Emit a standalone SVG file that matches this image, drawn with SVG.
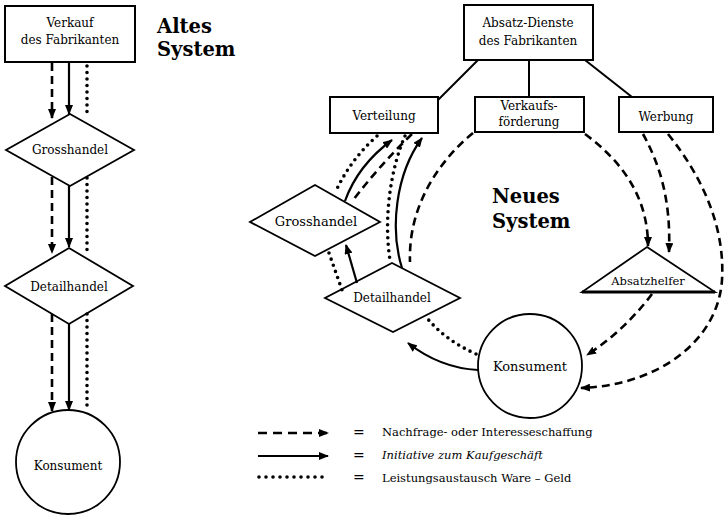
<svg xmlns="http://www.w3.org/2000/svg" width="725" height="515" viewBox="0 0 725 515">
  <style>
    .box { fill: #fff; stroke: #000; stroke-width: 2; }
    .shape { fill: #fff; stroke: #000; stroke-width: 1.8; }
    .lbl { font-family: "DejaVu Serif", "Liberation Serif", serif; font-size: 12px; fill: #000; text-anchor: middle; }
    .title { font-family: "DejaVu Serif", "Liberation Serif", serif; font-size: 19.5px; font-weight: bold; fill: #000; }
    .leg { font-family: "DejaVu Serif", "Liberation Serif", serif; font-size: 11.5px; fill: #000; }
    .tree { fill: none; stroke: #000; stroke-width: 2; }
    .dash { fill: none; stroke: #000; stroke-width: 2.6; stroke-dasharray: 8 5; }
    .solid { fill: none; stroke: #000; stroke-width: 2.2; }
    .dot { fill: none; stroke: #000; stroke-width: 3.6; stroke-dasharray: 0 6.5; stroke-linecap: round; }
    .arr { marker-end: url(#ah); }
  </style>
  <defs>
    <marker id="ah" viewBox="0 0 10 8" refX="9" refY="4" markerWidth="10" markerHeight="8" markerUnits="userSpaceOnUse" orient="auto">
      <path d="M0,0 L10,4 L0,8 z" fill="#000" stroke="none"/>
    </marker>
  </defs>

  <rect width="725" height="515" fill="#fff"/>

  <!-- Old system -->
  <text class="title" x="157" y="33">Altes</text>
  <text class="title" x="157" y="56">System</text>

  <g id="alt-fabrikant">
    <rect class="box" x="5" y="6" width="130" height="56"/>
    <text class="lbl" x="70" y="27">Verkauf</text>
    <text class="lbl" x="70" y="44">des Fabrikanten</text>
  </g>
  <g id="alt-grosshandel">
    <polygon class="shape" points="70,114 134,150 70,186 6,150"/>
    <text class="lbl" x="70" y="154">Grosshandel</text>
  </g>
  <g id="alt-detailhandel">
    <polygon class="shape" points="69,248 133,286 69,324 5,286"/>
    <text class="lbl" x="69" y="291">Detailhandel</text>
  </g>
  <g id="alt-konsument">
    <circle class="shape" cx="68" cy="462" r="52"/>
    <text class="lbl" x="68" y="470">Konsument</text>
  </g>

  <g id="alt-connectors">
    <path class="dash arr" d="M52,63 L52,118"/>
    <path class="solid arr" d="M69,63 L69,114"/>
    <path class="dot" d="M87,66 L87,117"/>
    <path class="dash arr" d="M52,177 L52,253"/>
    <path class="solid arr" d="M69,186 L69,247"/>
    <path class="dot" d="M87,178 L87,253"/>
    <path class="dash arr" d="M52,314 L52,411"/>
    <path class="solid arr" d="M69,324 L69,410"/>
    <path class="dot" d="M87,314 L87,410"/>
  </g>

  <!-- New system -->
  <text class="title" x="492" y="203">Neues</text>
  <text class="title" x="492" y="228">System</text>

  <g id="neu-absatzdienste">
    <rect class="box" x="464" y="5" width="129" height="55"/>
    <text class="lbl" x="528" y="27">Absatz-Dienste</text>
    <text class="lbl" x="528" y="45">des Fabrikanten</text>
  </g>
  <g id="neu-verteilung">
    <rect class="box" x="330" y="97" width="108" height="36"/>
    <text class="lbl" x="384" y="120">Verteilung</text>
  </g>
  <g id="neu-verkaufsfoerderung">
    <rect class="box" x="475" y="97" width="109" height="35"/>
    <text class="lbl" x="529" y="110">Verkaufs-</text>
    <text class="lbl" x="529" y="126">förderung</text>
  </g>
  <g id="neu-werbung">
    <rect class="box" x="619" y="97" width="94" height="35"/>
    <text class="lbl" x="666" y="121">Werbung</text>
  </g>
  <g id="neu-grosshandel">
    <polygon class="shape" points="315,185 380,222 315,256 250,222"/>
    <text class="lbl" x="316" y="226" style="font-size:13px">Grosshandel</text>
  </g>
  <g id="neu-detailhandel">
    <polygon class="shape" points="392,263 460,298 393,332 325,298"/>
    <text class="lbl" x="392" y="302">Detailhandel</text>
  </g>
  <g id="neu-absatzhelfer">
    <polygon class="shape" points="647,247 715,292 582,292"/>
    <line x1="582" y1="292" x2="715" y2="292" stroke="#000" stroke-width="3"/>
    <text class="lbl" x="648" y="285" style="font-size:11.5px">Absatzhelfer</text>
  </g>
  <g id="neu-konsument">
    <circle class="shape" cx="530" cy="366" r="52"/>
    <text class="lbl" x="530" y="371" style="font-size:13px">Konsument</text>
  </g>

  <g id="neu-connectors">
    <!-- organisation tree -->
    <path class="tree" d="M478,60 L438,100"/>
    <path class="tree" d="M529,60 L529,97"/>
    <path class="tree" d="M585,60 L632,97"/>

    <!-- Verteilung / Grosshandel -->
    <path class="dot" d="M377,136 Q350,160 335,193"/>
    <path class="solid arr" d="M345,201 Q358,165 392,140"/>
    <path class="dash" d="M412,134 Q380,165 354,199"/>

    <!-- Verteilung / Detailhandel -->
    <path class="dot" d="M405,136 C392,165 383,215 390,260"/>
    <path class="solid arr" d="M402,268 C390,230 395,175 422,138"/>

    <!-- Grosshandel / Detailhandel -->
    <path class="dot" d="M329,253 L342,290"/>
    <path class="solid arr" d="M357,283 L346,245"/>

    <!-- Verkaufsförderung arcs -->
    <path class="dash" d="M473,133 C440,160 408,205 410,262"/>
    <path class="dash arr" d="M585,134 C620,160 648,195 648,246"/>

    <!-- Werbung -->
    <path class="dash arr" d="M643,134 C660,165 671,200 669,252"/>
    <path class="dash arr" d="M668,134 C705,180 725,230 722,280 C718,340 660,385 581,388"/>

    <!-- Absatzhelfer to Konsument -->
    <path class="dash arr" d="M652,294 Q625,330 587,355"/>

    <!-- Konsument / Detailhandel -->
    <path class="solid arr" d="M478,370 Q440,368 408,343"/>
    <path class="dot" d="M476,354 Q445,340 427,318"/>
  </g>

  <!-- Legend -->
  <g id="legende">
    <path class="dash arr" d="M258,433 L328,433" style="stroke-dasharray:9 6"/>
    <path class="solid arr" d="M258,456 L328,456"/>
    <path class="dot" d="M259,477 L328,477" style="stroke-dasharray:0 7"/>
    <text class="leg" x="353" y="437" style="font-size:14px">=</text>
    <text class="leg" x="353" y="460" style="font-size:14px">=</text>
    <text class="leg" x="353" y="482" style="font-size:14px">=</text>
    <text class="leg" x="382" y="436">Nachfrage- oder Interesseschaffung</text>
    <text class="leg" x="382" y="459" font-style="italic">Initiative zum Kaufgeschäft</text>
    <text class="leg" x="382" y="482">Leistungsaustausch Ware – Geld</text>
  </g>
</svg>
